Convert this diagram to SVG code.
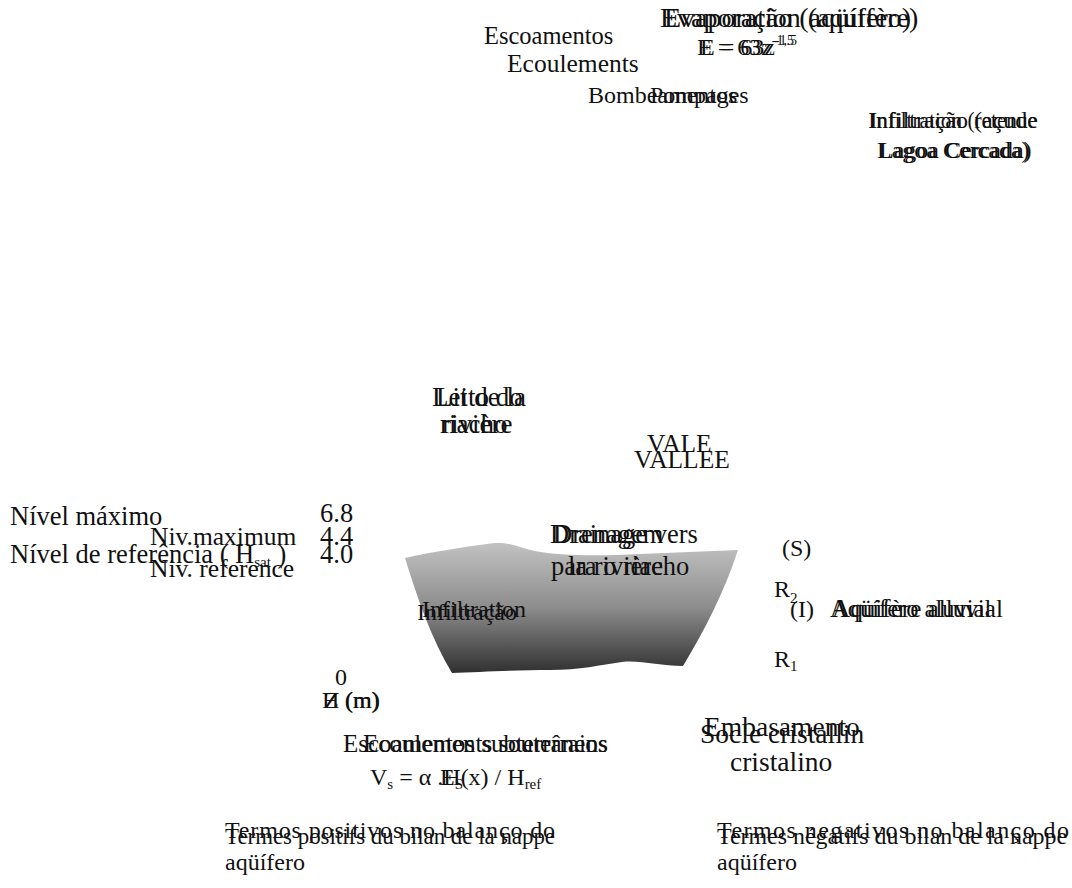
<svg xmlns="http://www.w3.org/2000/svg" width="1072" height="888" viewBox="0 0 1072 888">
  <defs>
    <linearGradient id="aquiferFill" x1="0" y1="0" x2="0" y2="1">
      <stop offset="0" stop-color="#c2c2c2"/>
      <stop offset="0.5" stop-color="#8c8c8c"/>
      <stop offset="1" stop-color="#303030"/>
    </linearGradient>
    <style>
      text { font-family: "Liberation Serif", "Times New Roman", serif; font-size: 24px; fill: #111; }
      .sub { font-size: 15px; }
      .sup { font-size: 14px; }
      .big { font-size: 28px; }
      .lvl { font-size: 26.5px; }
      .lvl2 { font-size: 25.5px; }
      .mid { font-size: 26.5px; }
      .bed { font-size: 27.5px; }
    </style>
  </defs>

  <rect width="1072" height="888" fill="#fff"/>

  <!-- alluvial aquifer body -->
  <g id="aquifer">
    <path d="M405,558 C430,552 470,546 495,543 C510,542 520,548 535,551 C560,556 600,556 640,554 L738,550 C725,590 705,630 683,666 C660,666 640,660 622,662 C600,665 580,670 550,670 C520,670 480,672 452,673 C432,640 418,600 405,558 Z" fill="url(#aquiferFill)"/>
  </g>

  <g id="connectors"></g>

  <!-- outflows -->
  <g id="outflow">
    <text x="484" y="44" style="font-size:24.5px">Escoamentos</text>
    <text x="507" y="72" style="font-size:25.5px">Ecoulements</text>
  </g>

  <!-- evaporation -->
  <g id="evaporation">
    <text class="big" x="660" y="27">Evaporação (aqüífero)</text>
    <text class="big" x="664" y="27">Evaporation (aquifère)</text>
    <text x="697" y="55">E = 63z<tspan class="sup" dy="-10">-1,5</tspan></text>
    <text x="700" y="55">E = 63z<tspan class="sup" dy="-10">-1.5</tspan></text>
  </g>

  <!-- pumping -->
  <g id="pumping">
    <text x="588" y="103">Bombeamentos</text>
    <text x="650" y="103">Pompages</text>
  </g>

  <!-- reservoir infiltration -->
  <g id="reservoir">
    <text x="868" y="128">Infiltração (açude</text>
    <text x="870" y="128" textLength="167" lengthAdjust="spacingAndGlyphs">Infiltration (retenue</text>
    <text x="877" y="158">Lagoa Cercada)</text>
    <text x="879" y="158">Lagoa Cercada)</text>
  </g>

  <!-- river bed -->
  <g id="riverbed">
    <text x="432" y="406" style="font-size:27px">Leito do</text>
    <text x="436" y="406" style="font-size:27px">Lit de la</text>
    <text x="440" y="433" style="font-size:27px">riacho</text>
    <text x="442" y="433" style="font-size:27px">rivière</text>
  </g>

  <!-- valley -->
  <g id="valley">
    <text x="647" y="452" style="font-size:25.5px">VALE</text>
    <text x="634" y="468" style="font-size:25.5px">VALLEE</text>
  </g>

  <!-- levels -->
  <g id="levels">
    <text class="lvl" x="10" y="525">Nível máximo</text>
    <text class="lvl2" x="150" y="545">Niv.maximum</text>
    <text class="lvl" x="10" y="563">Nível de referência ( H<tspan class="sub" dy="4">sat</tspan><tspan dy="-4"> )</tspan></text>
    <text class="lvl2" x="150" y="577">Niv. reference</text>
    <text class="lvl" x="320" y="522">6.8</text>
    <text class="lvl" x="320" y="545">4.4</text>
    <text class="lvl" x="320" y="563">4.0</text>
  </g>

  <!-- vertical axis -->
  <g id="axis">
    <text x="335" y="685">0</text>
    <text x="322" y="708">H (m)</text>
    <text x="324" y="708">Z (m)</text>
  </g>

  <!-- drainage to river -->
  <g id="drainage">
    <text class="mid" x="553" y="543">Drenagem</text>
    <text class="mid" x="550" y="543">Drainage vers</text>
    <text class="mid" x="551" y="575">para o riacho</text>
    <text class="mid" x="568" y="575">la rivière</text>
  </g>

  <!-- infiltration into aquifer -->
  <g id="infiltration">
    <text x="417" y="620">Infiltração</text>
    <text x="422" y="617">Infiltration</text>
  </g>

  <!-- aquifer labels -->
  <g id="layers">
    <text x="782" y="556">(S)</text>
    <text x="774" y="597">R<tspan class="sub" dy="6">2</tspan></text>
    <text x="790" y="617">(I)</text>
    <text x="830" y="617" style="font-size:24.5px">Aqüífero aluvial</text>
    <text x="832" y="617" style="font-size:24.5px" textLength="171" lengthAdjust="spacingAndGlyphs">Aquifère alluvial</text>
    <text x="774" y="667">R<tspan class="sub" dy="4">1</tspan></text>
  </g>

  <!-- bedrock -->
  <g id="bedrock">
    <text class="bed" x="704" y="736">Embasamento</text>
    <text class="bed" x="700" y="743">Socle cristallin</text>
    <text class="bed" x="730" y="771">cristalino</text>
  </g>

  <!-- groundwater flow -->
  <g id="groundwater">
    <text x="343" y="752" style="font-size:25px">Escoamentos subterrâneos</text>
    <text x="363" y="752" style="font-size:25px">Ecoulements souterrains</text>
    <text x="370" y="785">V<tspan class="sub" dy="4">s</tspan><tspan dy="-4"> = α .H(x) / H</tspan><tspan class="sub" dy="4">ref</tspan></text>
    <text x="440" y="785">E<tspan class="sub" dy="4">S</tspan></text>
  </g>

  <!-- balance terms -->
  <g id="positive">
    <text x="225" y="838" textLength="330" lengthAdjust="spacing">Termos positivos no balanço do</text>
    <text x="225" y="844" textLength="330" lengthAdjust="spacingAndGlyphs">Termes positifs du bilan de la nappe</text>
    <text x="225" y="870">aqüífero</text>
  </g>
  <g id="negative">
    <text x="717" y="838" textLength="352" lengthAdjust="spacing">Termos negativos no balanço do</text>
    <text x="717" y="844" textLength="350" lengthAdjust="spacingAndGlyphs">Termes négatifs du bilan de la nappe</text>
    <text x="717" y="870">aqüífero</text>
  </g>
</svg>
